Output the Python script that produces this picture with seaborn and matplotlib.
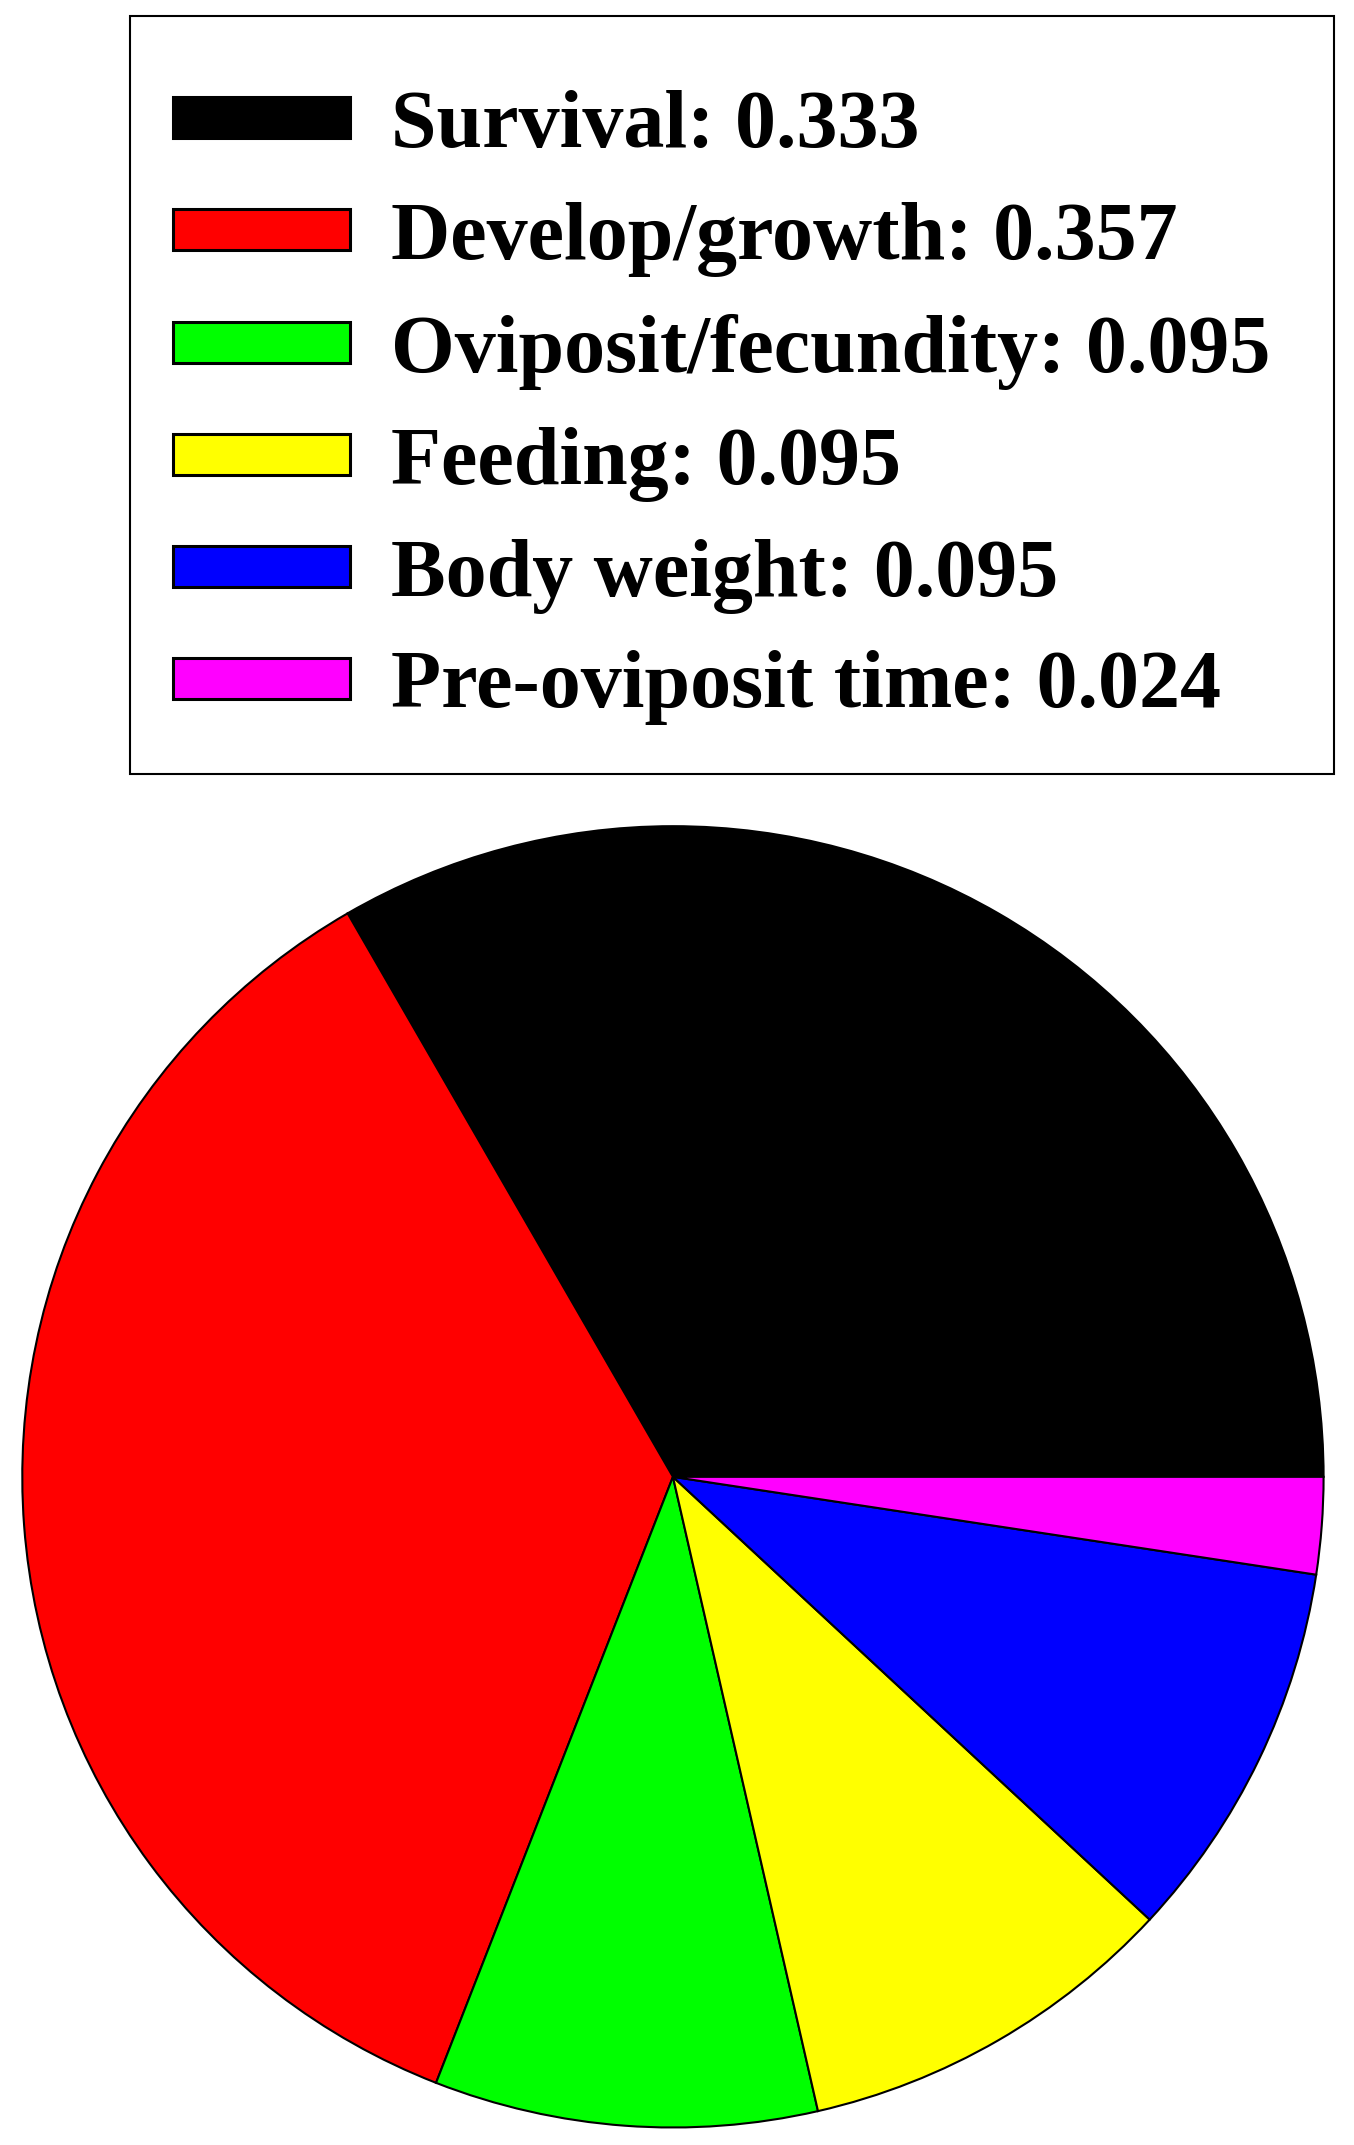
## Pie chart of trait categories

import matplotlib
matplotlib.use('Agg')
import matplotlib.pyplot as plt
import seaborn as sns

## Data
categories = ['Survival', 'Develop/growth', 'Oviposit/fecundity',
              'Feeding', 'Body weight', 'Pre-oviposit time']
shares = [0.333, 0.357, 0.095, 0.095, 0.095, 0.024]
share_labels = ['0.333', '0.357', '0.095', '0.095', '0.095', '0.024']
colors = ['#000000', '#ff0000', '#00ff00', '#ffff00', '#0000ff', '#ff00ff']

sns.set_theme(style='white')
plt.rcParams['font.family'] = ['Liberation Serif', 'DejaVu Serif']
plt.rcParams['text.color'] = 'black'

W, H = 1354, 2145
fig = plt.figure(figsize=(W / 100, H / 100), dpi=100)

## Pie
ax = fig.add_axes([0.0155, 0.0075, 0.963, 0.608])
wedges, _ = ax.pie(shares, colors=colors, startangle=0, counterclock=True,
                   wedgeprops={'edgecolor': 'black', 'linewidth': 1.5})
ax.set_xlim(-1.002, 1.002)
ax.set_ylim(-1.002, 1.002)
ax.set_aspect('equal')

## Legend box (drawn by hand so the padding matches)
box = plt.Rectangle((130 / W, 1 - 774 / H), (1334 - 130) / W, (774 - 16) / H,
                    transform=fig.transFigure, facecolor='white',
                    edgecolor='black', linewidth=1.5, zorder=1)
fig.patches.append(box)

labels = [c + ': ' + v for c, v in zip(categories, share_labels)]
handles = [plt.Rectangle((0, 0), 1, 1, facecolor=c, edgecolor='black', linewidth=2.2)
           for c in colors]
leg = fig.legend(handles, labels, loc='upper left',
                 bbox_to_anchor=(173 / W, 1 - 90 / H),
                 prop={'size': 59, 'family': 'Liberation Serif', 'weight': 'bold'},
                 handlelength=2.16, handleheight=0.39, handletextpad=0.5,
                 labelspacing=0.45, borderpad=0, borderaxespad=0,
                 frameon=False)

plt.savefig('out.png', dpi=100)
